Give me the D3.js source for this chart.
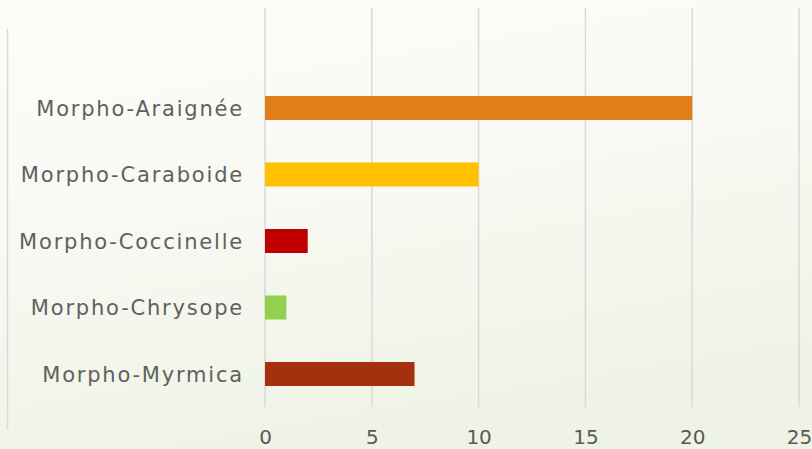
<!DOCTYPE html>
<html><head><meta charset="utf-8">
<script src="https://cdn.jsdelivr.net/npm/d3@7"></script>
<style>html,body{margin:0;padding:0;overflow:hidden;}</style>
</head><body>
<svg id="c" width="812" height="449"></svg>
<script>
const categories = ["Morpho-Araignée","Morpho-Caraboide","Morpho-Coccinelle","Morpho-Chrysope","Morpho-Myrmica"];
const values = [20, 10, 2, 1, 7];
const colors = ["#E07F1A","#FFC000","#C00000","#92D050","#A5300F"];
const xTicks = [0,5,10,15,20,25];

const svg = d3.select("#c");
const defs = svg.append("defs");
const g0 = defs.append("linearGradient").attr("id","bg").attr("x1","0").attr("y1","0").attr("x2","0.3").attr("y2","1");
g0.append("stop").attr("offset","0").attr("stop-color","#fcfdf9");
g0.append("stop").attr("offset","0.5").attr("stop-color","#f8f9f3");
g0.append("stop").attr("offset","1").attr("stop-color","#eff3e5");
svg.append("rect").attr("width",812).attr("height",449).attr("fill","url(#bg)");

svg.append("line").attr("x1",7.5).attr("x2",7.5).attr("y1",29).attr("y2",430)
  .attr("stroke","#d9d9d9").attr("stroke-width",1.5);

const x = d3.scaleLinear().domain([0,25]).range([265,799]);
const y = d3.scaleBand().domain(categories).range([74.75,407.25]).paddingInner(0.639).paddingOuter(0.3195);

const font = "'Century Gothic', 'DejaVu Sans', sans-serif";

svg.append("g").selectAll("line").data(xTicks).join("line")
  .attr("x1",d=>x(d)).attr("x2",d=>x(d)).attr("y1",8).attr("y2",407)
  .attr("stroke","#d9d9d9").attr("stroke-width",1.5);

svg.append("g").selectAll("rect").data(categories).join("rect")
  .attr("x",x(0)).attr("y",d=>y(d)).attr("height",y.bandwidth())
  .attr("width",(d,i)=>x(values[i])-x(0)).attr("fill",(d,i)=>colors[i]);

const xa = svg.append("g").attr("transform","translate(0,444)")
  .call(d3.axisBottom(x).tickValues(xTicks).tickSize(0).tickPadding(0));
xa.select(".domain").remove();
xa.selectAll("text").attr("font-family",font).attr("font-size",20).attr("fill","#595959")
  .attr("dy","0");

const ya = svg.append("g").attr("transform","translate(244,1)")
  .call(d3.axisLeft(y).tickSize(0).tickPadding(0));
ya.select(".domain").remove();
ya.selectAll("text").attr("font-family",font).attr("font-size",21).attr("fill","#606060")
  .attr("letter-spacing","1.8px");
</script>
</body></html>
